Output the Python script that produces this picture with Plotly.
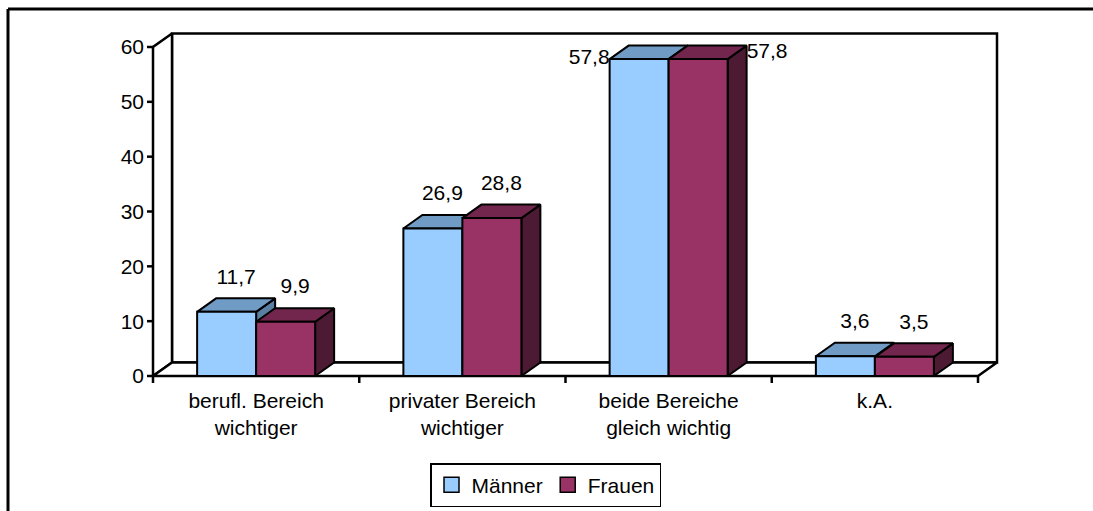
import plotly.graph_objects as go

# ---------------- data ----------------
categories = ["berufl. Bereich<br>wichtiger", "privater Bereich<br>wichtiger",
              "beide Bereiche<br>gleich wichtig", "k.A."]
maenner = [11.7, 26.9, 57.8, 3.6]
frauen = [9.9, 28.8, 57.8, 3.5]
series_names = ["Männer", "Frauen"]
y_ticks = [0, 10, 20, 30, 40, 50, 60]

# ---------------- style ----------------
FONT = "Liberation Sans, Arial, sans-serif"
FS = 21
W_FIG, H_FIG = 1093, 511
PX_X = 206.25           # pixels per category unit
PX_Y = 329 / 60         # pixels per value unit
DX = 19 / PX_X          # 3D depth in x units
DY = 13.5 / PX_Y        # 3D depth in value units
BAR_W = 59 / PX_X
YMAX = 60
NCAT = len(categories)
LABEL_PAD = 20 / PX_Y
TICK_Y = 6 / PX_X
TICK_X = 7 / PX_Y
LW = 2.5
BLW = 2

colors = {
    "Männer": {"front": "#99CCFF", "top": "#6F9BC4", "side": "#5A7FA3"},
    "Frauen": {"front": "#993366", "top": "#73264D", "side": "#4D1A33"},
}

L, R, T, B = 145, 74, 25, 125
X0 = -(153 - L) / PX_X
X1 = X0 + (W_FIG - L - R) / PX_X
Y0 = -((H_FIG - B) - 376) / PX_Y
Y1 = Y0 + (H_FIG - T - B) / PX_Y

fig = go.Figure()


def poly(xs, ys, fill, lw=LW):
    fig.add_trace(go.Scatter(
        x=list(xs) + [xs[0]], y=list(ys) + [ys[0]], mode="lines",
        fill="toself", fillcolor=fill, line=dict(color="black", width=lw),
        showlegend=False, hoverinfo="skip"))


# back wall, left wall, floor
poly([DX, NCAT + DX, NCAT + DX, DX], [DY, DY, YMAX + DY, YMAX + DY], "white")
poly([0, DX, DX, 0], [0, DY, YMAX + DY, YMAX], "white")
poly([0, NCAT, NCAT + DX, DX], [0, 0, DY, DY], "white")

# tick marks
tx, ty = [], []
for v in y_ticks:
    tx += [-TICK_Y, 0, None]
    ty += [v, v, None]
for b in range(NCAT + 1):
    tx += [b, b, None]
    ty += [0, -TICK_X, None]
fig.add_trace(go.Scatter(x=tx, y=ty, mode="lines", line=dict(color="black", width=LW),
                         showlegend=False, hoverinfo="skip"))

# bars
series = [("Männer", maenner, -1), ("Frauen", frauen, 0)]
for i in range(NCAT):
    c = i + 0.5
    for name, vals, off in series:
        v = vals[i]
        x0 = c + off * BAR_W
        x1 = x0 + BAR_W
        col = colors[name]
        poly([x1, x1 + DX, x1 + DX, x1], [0, DY, v + DY, v], col["side"], BLW)
        poly([x0, x1, x1 + DX, x0 + DX], [v, v, v + DY, v + DY], col["top"], BLW)
        poly([x0, x1, x1, x0], [0, 0, v, v], col["front"], BLW)

# value labels
for name, vals, off in series:
    lx, ly, lt, lp = [], [], [], []
    for i, v in enumerate(vals):
        c = i + 0.5
        x0 = c + off * BAR_W
        x1 = x0 + BAR_W
        txt = f"{v:.1f}".replace(".", ",")
        if v + DY + LABEL_PAD > YMAX:
            if off < 0:
                lx.append(x0); ly.append(v); lp.append("middle left")
            else:
                lx.append(x1 + DX); ly.append(v + DY / 2); lp.append("middle right")
        else:
            lx.append((x0 + x1) / 2 + DX / 2)
            ly.append(v + DY + LABEL_PAD)
            lp.append("middle center")
        lt.append(txt)
    fig.add_trace(go.Scatter(x=lx, y=ly, text=lt, mode="text", textposition=lp,
                             textfont=dict(family=FONT, size=FS, color="black"),
                             cliponaxis=False, showlegend=False, hoverinfo="skip"))

# legend entries
for name in series_names:
    fig.add_trace(go.Scatter(x=[None], y=[None], mode="markers", name=name,
                             marker=dict(symbol="square", size=15, color=colors[name]["front"],
                                         line=dict(color="black", width=1.5))))

PW = W_FIG - L - R
PH = H_FIG - T - B


def paper_x(px):
    return (px - L) / PW


def paper_y(py):
    return (H_FIG - B - py) / PH


# outer frame (top and left edges)
fig.add_shape(type="line", xref="paper", yref="paper",
              x0=paper_x(8), y0=paper_y(9), x1=paper_x(1100), y1=paper_y(9),
              line=dict(color="black", width=3))
fig.add_shape(type="line", xref="paper", yref="paper",
              x0=paper_x(8), y0=paper_y(9), x1=paper_x(8), y1=paper_y(520),
              line=dict(color="black", width=3))

fig.update_layout(
    template="none",
    width=W_FIG, height=H_FIG,
    margin=dict(l=L, r=R, t=T, b=B, pad=0, autoexpand=False),
    paper_bgcolor="white", plot_bgcolor="white",
    font=dict(family=FONT, size=FS, color="black"),
    hovermode=False,
    showlegend=True,
    legend=dict(orientation="h", x=paper_x(545.5), xanchor="center",
                y=paper_y(463), yanchor="top",
                bordercolor="black", borderwidth=1.5, bgcolor="white",
                font=dict(family=FONT, size=FS), itemsizing="trace"),
    xaxis=dict(range=[X0, X1], showgrid=False, zeroline=False, showline=False, automargin=False,
               tickmode="array", tickvals=[i + 0.5 for i in range(NCAT)],
               ticktext=categories, ticks="", tickfont=dict(family=FONT, size=FS)),
    yaxis=dict(range=[Y0, Y1], showgrid=False, zeroline=False, showline=False, automargin=False,
               tickmode="array", tickvals=y_ticks, ticktext=[str(v) for v in y_ticks],
               ticks="", tickfont=dict(family=FONT, size=FS)),
)

fig.write_html("out.html", config={"displayModeBar": False},
               post_script="document.body.style.margin='0';document.body.style.overflow='hidden';")
